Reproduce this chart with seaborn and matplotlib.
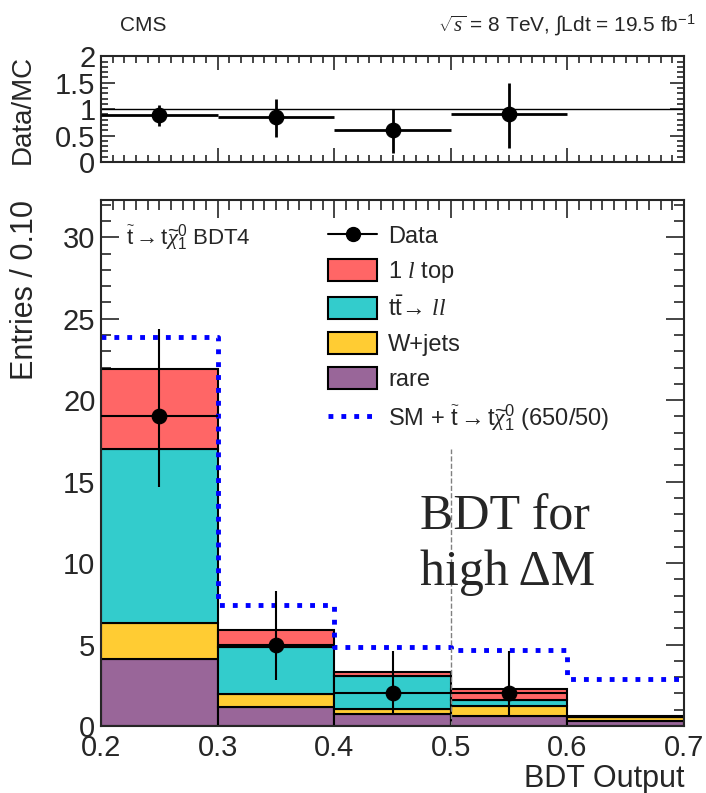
import numpy as np
import pandas as pd
import seaborn as sns
import matplotlib
matplotlib.use("Agg")
import matplotlib.pyplot as plt
from matplotlib.patches import Patch
from matplotlib.lines import Line2D
from matplotlib.ticker import MultipleLocator

# Data
bin_edges = [0.2, 0.3, 0.4, 0.5, 0.6, 0.7]
bin_centers = [0.25, 0.35, 0.45, 0.55, 0.65]
rare = [4.1, 1.15, 0.72, 0.61, 0.30]
wjets = [2.2, 0.80, 0.30, 0.62, 0.25]
ttll = [10.7, 2.90, 2.05, 0.35, 0.02]
top1l = [4.9, 1.05, 0.24, 0.70, 0.03]
signal_total = [23.9, 7.45, 4.85, 4.65, 2.9]

data_x = [0.25, 0.35, 0.45, 0.55]
data_y = [19, 5, 2, 2]
data_err_lo = [4.3, 2.2, 1.3, 1.3]
data_err_hi = [5.4, 3.3, 2.6, 2.6]

ratio_y = [0.88, 0.86, 0.60, 0.90]
ratio_lo = [0.68, 0.47, 0.17, 0.26]
ratio_hi = [1.07, 1.20, 1.00, 1.50]

process_names = ["1l top", "ttll", "W+jets", "rare"]
process_colors = {"1l top": "#ff6666", "ttll": "#33cccc",
                  "W+jets": "#ffcc33", "rare": "#996699"}

# Long-format table for seaborn
rows = []
for name, vals in zip(process_names, [top1l, ttll, wjets, rare]):
    for c, v in zip(bin_centers, vals):
        rows.append({"x": c, "w": v, "process": name})
df = pd.DataFrame(rows)

sns.set_style("ticks")
plt.rcParams["font.family"] = ["Liberation Sans", "DejaVu Sans"]
plt.rcParams["mathtext.fontset"] = "custom"
plt.rcParams["mathtext.rm"] = "Liberation Sans"
plt.rcParams["mathtext.it"] = "Liberation Serif:italic"

fig = plt.figure(figsize=(7.06, 7.93), dpi=100)
ax = fig.add_axes([0.143, 0.0845, 0.826, 0.6635])
rax = fig.add_axes([0.143, 0.7957, 0.826, 0.1333])

# Stacked backgrounds
sns.histplot(data=df, x="x", weights="w", hue="process", hue_order=process_names,
             multiple="stack", bins=bin_edges, palette=process_colors,
             edgecolor="black", linewidth=1.5, alpha=1, legend=False, ax=ax)

# Signal + SM
sns.histplot(x=bin_centers, weights=signal_total, bins=bin_edges, element="step",
             fill=False, color="blue", linestyle=":", linewidth=3.5, ax=ax)

# Data points
ax.errorbar(data_x, data_y, xerr=0.05, yerr=[data_err_lo, data_err_hi],
            fmt="none", ecolor="black", elinewidth=1.5, zorder=5)
sns.scatterplot(x=data_x, y=data_y, color="black", s=110, edgecolor="black",
                zorder=6, ax=ax)

ax.axvline(0.5, ymin=0, ymax=17 / 32.3, color="gray", linestyle="--", linewidth=1)

ax.set_xlim(0.2, 0.7)
ax.set_ylim(0, 32.3)
ax.xaxis.set_major_locator(MultipleLocator(0.1))
ax.xaxis.set_minor_locator(MultipleLocator(0.01))
ax.yaxis.set_major_locator(MultipleLocator(5))
ax.yaxis.set_minor_locator(MultipleLocator(1))
ax.set_xlabel("BDT Output", fontsize=22, loc="right", labelpad=1)
ax.set_ylabel("Entries / 0.10", fontsize=22, loc="top")
ax.yaxis.set_label_coords(-0.105, 1.0)
ax.tick_params(axis="both", which="both", direction="in", top=True, right=True,
               labelsize=21, width=1.2)
ax.tick_params(axis="x", pad=6)
ax.tick_params(axis="y", pad=4)
ax.tick_params(which="major", length=13)
ax.tick_params(which="minor", length=7)
for s in ax.spines.values():
    s.set_linewidth(1.5)

ax.text(0.043, 0.93, r"$\widetilde{\mathrm{t}}\rightarrow \mathrm{t}\widetilde{\chi}^{0}_{1}$ BDT4",
        transform=ax.transAxes, fontsize=16, va="center")
ax.text(0.547, 0.3726, "BDT for", transform=ax.transAxes, fontsize=36,
        family="Liberation Serif", va="baseline", ha="left")
ax.text(0.547, 0.268, "high \u0394M", transform=ax.transAxes, fontsize=36,
        family="Liberation Serif", va="baseline", ha="left")

handles = [
    Line2D([0], [0], color="black", marker="o", markersize=10, linewidth=1.5),
    Patch(facecolor=process_colors["1l top"], edgecolor="black", linewidth=1.5),
    Patch(facecolor=process_colors["ttll"], edgecolor="black", linewidth=1.5),
    Patch(facecolor=process_colors["W+jets"], edgecolor="black", linewidth=1.5),
    Patch(facecolor=process_colors["rare"], edgecolor="black", linewidth=1.5),
    Line2D([0], [0], color="blue", linestyle=":", linewidth=3.5),
]
labels = [
    "Data",
    r"1 $\mathit{l}$ top",
    r"t$\bar{\mathrm{t}}\!\rightarrow\,\mathit{ll}$",
    "W+jets",
    "rare",
    r"SM + $\widetilde{\mathrm{t}}\rightarrow \mathrm{t}\widetilde{\chi}^{0}_{1}$ (650/50)",
]
ax.legend(handles, labels, loc="upper left", bbox_to_anchor=(0.389, 0.954),
          frameon=False, fontsize=17, handlelength=2.1, handleheight=1.05,
          handletextpad=0.45, labelspacing=0.47, borderaxespad=0, borderpad=0)

# Ratio panel
rax.axhline(1, color="black", linewidth=1)
rax.errorbar(data_x, ratio_y, xerr=0.05,
             yerr=[np.subtract(ratio_y, ratio_lo), np.subtract(ratio_hi, ratio_y)],
             fmt="none", ecolor="black", elinewidth=2, zorder=5)
sns.scatterplot(x=data_x, y=ratio_y, color="black", s=110, edgecolor="black",
                zorder=6, ax=rax)
rax.set_xlim(0.2, 0.7)
rax.set_ylim(0, 2)
rax.xaxis.set_major_locator(MultipleLocator(0.1))
rax.xaxis.set_minor_locator(MultipleLocator(0.01))
rax.yaxis.set_major_locator(MultipleLocator(0.5))
rax.yaxis.set_minor_locator(MultipleLocator(0.1))
rax.set_yticks([0, 0.5, 1, 1.5, 2], ["0", "0.5", "1", "1.5", "2"])
rax.tick_params(axis="both", which="both", direction="in", top=True, right=True,
                labelsize=21, labelbottom=False, width=1.2, pad=4)
rax.tick_params(which="major", length=10)
rax.tick_params(which="minor", length=5)
rax.set_ylabel("Data/MC", fontsize=20)
rax.yaxis.set_label_coords(-0.112, 0.5)
rax.set_xlabel("")
for s in rax.spines.values():
    s.set_linewidth(1.5)

fig.text(0.17, 0.968, "CMS", fontsize=15, va="center")
fig.text(0.985, 0.968, r"$\sqrt{s}$ = 8 TeV, $\int$Ldt = 19.5 fb$^{-1}$",
         fontsize=15, va="center", ha="right")

fig.savefig("out.png", dpi=100)
